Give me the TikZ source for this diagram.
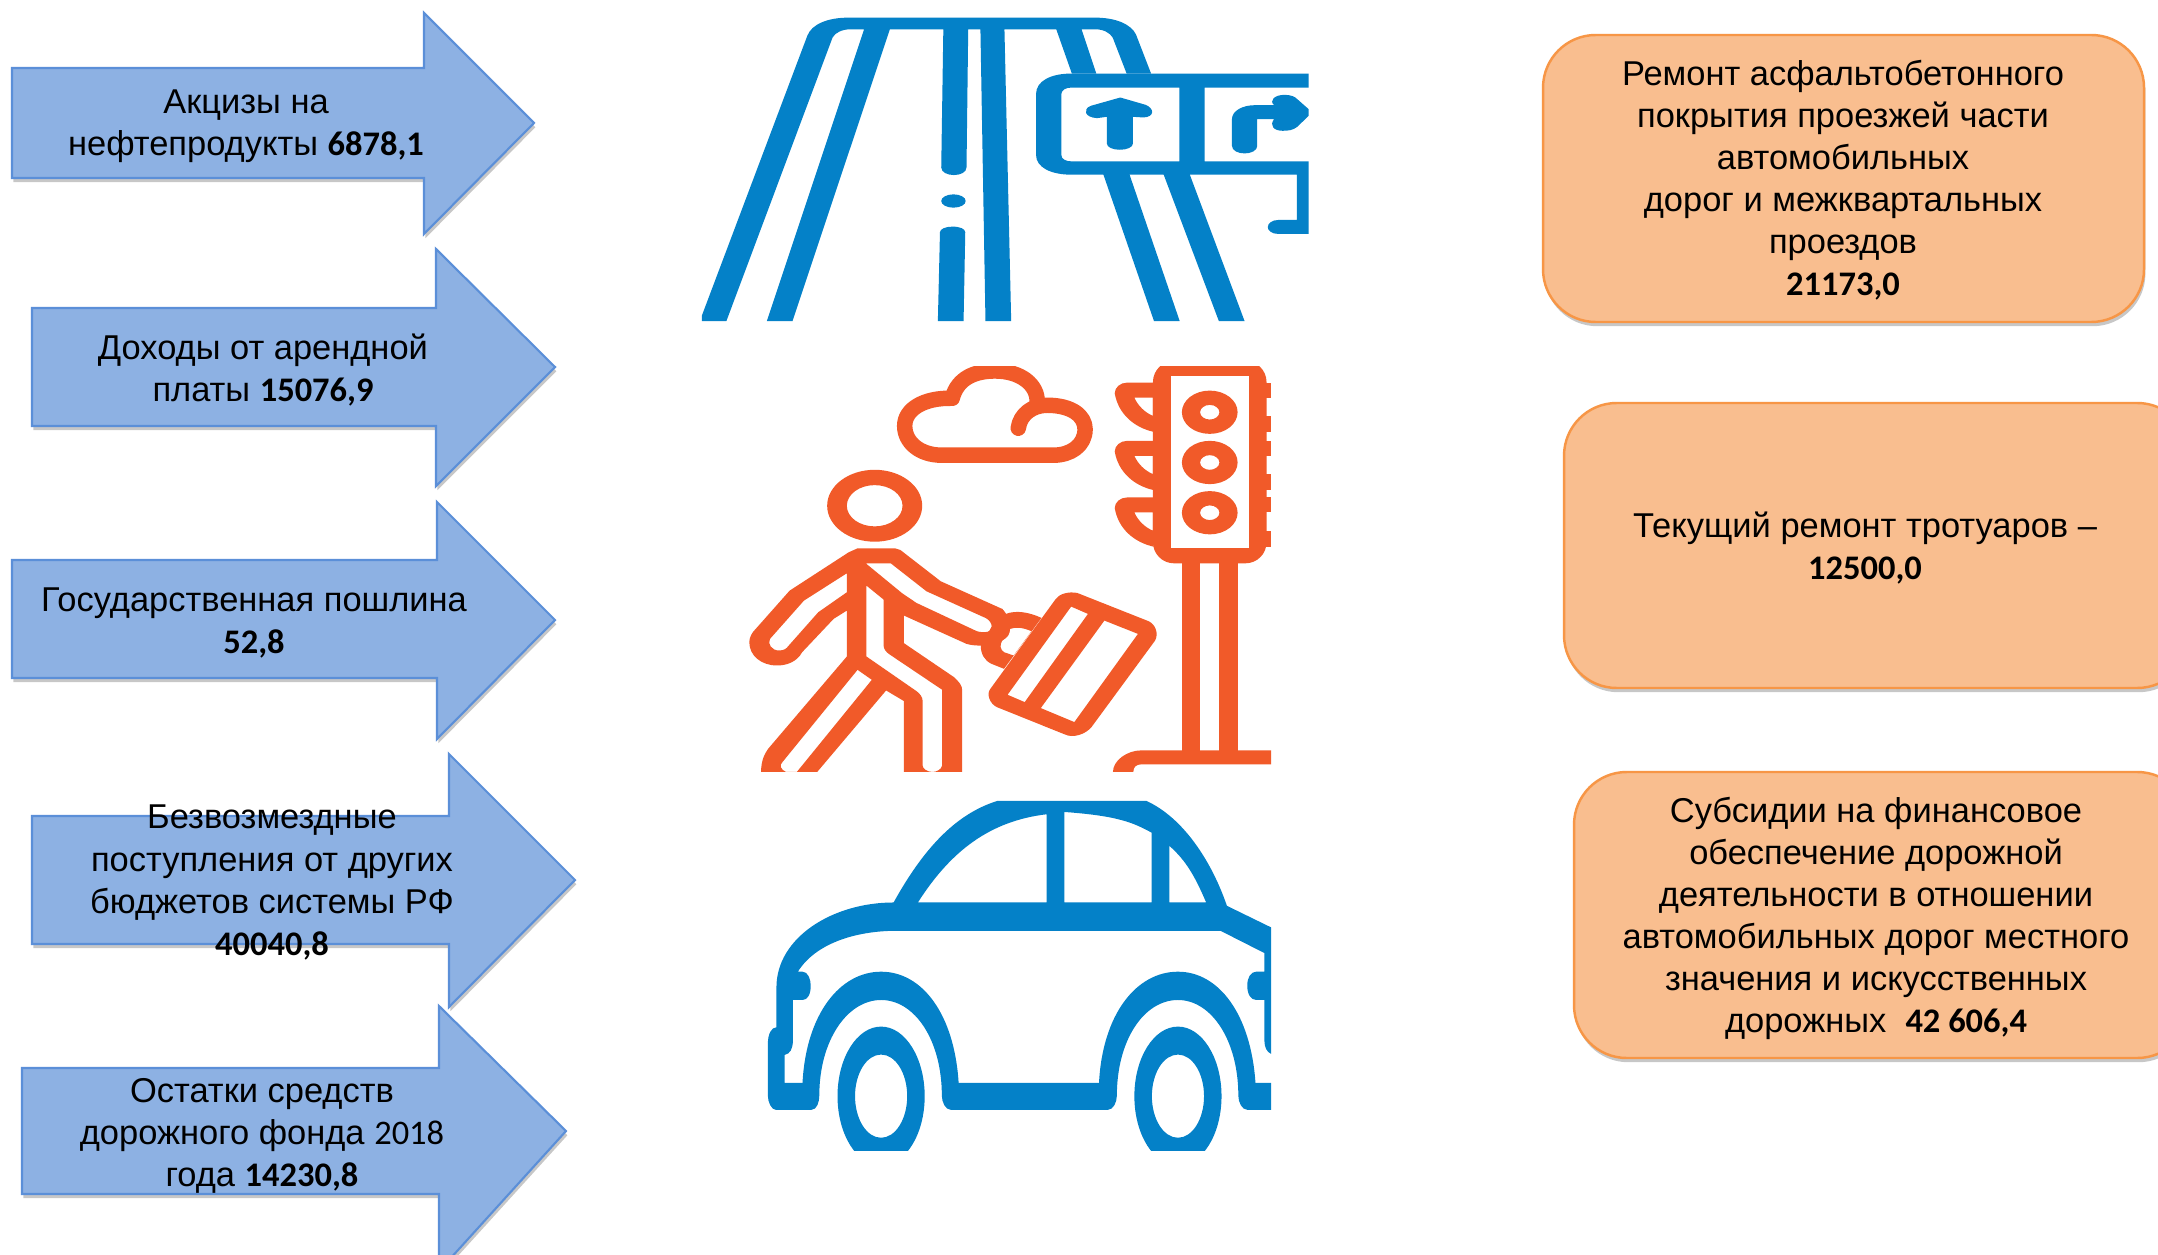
\documentclass[tikz,border=0pt]{standalone}
\usepackage{fontspec}
\setmainfont{Liberation Sans}
\newfontfamily\numfont{Carlito}
\usetikzlibrary{shadows}
\definecolor{iconblue}{HTML}{0481C8}
\definecolor{iconorange}{HTML}{F15A29}
\definecolor{arrowfill}{HTML}{8DB1E3}
\definecolor{arrowline}{HTML}{5B8FD8}
\definecolor{boxfill}{HTML}{F9BE8F}
\definecolor{boxline}{HTML}{F79646}
\newcommand{\nb}[1]{{\numfont\bfseries\fontsize{9.8}{11.95}\selectfont #1}}
\newcommand{\nr}[1]{{\numfont\fontsize{9.8}{11.95}\selectfont #1}}
\tikzset{
  softshadow/.style={drop shadow={shadow xshift=0.4pt,shadow yshift=-1.2pt,fill=black,opacity=0.22}},
  arrowshape/.style={fill=arrowfill,draw=arrowline,line width=0.6pt,softshadow},
  boxshape/.style={fill=boxfill,draw=boxline,line width=0.7pt,rounded corners=15pt,softshadow},
  label/.style={align=center,inner sep=0pt,text=black,font=\fontsize{9.8}{11.95}\selectfont},
  blueshape/.style={fill=iconblue,even odd rule},
  orangeshape/.style={fill=iconorange,even odd rule},
}
\newcommand{\inarrow}[8]{% left top bottom headx headtop headbot tipx tipy
  \fill[arrowshape] (#1,#2) -- (#4,#2) -- (#4,#5) -- (#7,#8) -- (#4,#6) -- (#4,#3) -- (#1,#3) -- cycle;}
\begin{document}
\begin{tikzpicture}[x=0.01cm,y=-0.01cm]
\path[use as bounding box] (0,0) rectangle (2158,1255);
\clip (0,0) rectangle (2158,1255);
\fill[white] (0,0) rectangle (2158,1255);
\begin{scope}[shift={(0,1)}]

% left arrows
\inarrow{12}{67}{177}{424}{12}{233}{534}{122}
\inarrow{32}{307}{425}{436}{248}{485}{555}{366}
\inarrow{12}{559}{677}{437}{501}{738}{555}{619}
\inarrow{32}{815}{943}{449}{753}{1006}{575}{879}
\inarrow{22}{1067}{1193}{439}{1005}{1270}{566}{1130}

\node[label] (a1) at (246,125.5) {Акцизы на\\нефтепродукты \nb{6878,1}};
\node[label] (a2) at (263,369) {Доходы от арендной\\платы \nb{15076,9}};
\node[label] (a3) at (254,621.5) {Государственная пошлина\\\nb{52,8}};
\node[label] (a4) at (272,881.5) {Безвозмездные\\поступления от других\\бюджетов системы РФ\\\nb{40040,8}};
\node[label] (a5) at (262,1135) {Остатки средств\\дорожного фонда \nr{2018}\\года \nb{14230,8}};

% right boxes
\fill[boxshape] (1543,34) rectangle (2144,321);
\fill[boxshape] (1564,402) rectangle (2190,687);
\fill[boxshape] (1574,771) rectangle (2190,1057);
\node[label] (b1) at (1843,179.5) {Ремонт асфальтобетонного\\покрытия проезжей части\\автомобильных\\дорог и межквартальных\\проездов\\\nb{21173,0}};
\node[label] (b2) at (1865,547) {Текущий ремонт тротуаров –\\\nb{12500,0}};
\node[label] (b3) at (1876,917) {Субсидии на финансовое\\обеспечение дорожной\\деятельности в отношении\\автомобильных дорог местного\\значения и искусственных\\дорожных \ \nb{42 606,4}};

% road icon
\begin{scope}[shift={(680,0)},x=0.004209cm,y=-0.003333cm]
\clip (40,50) rectangle (1492,962);
\fill[blueshape] (52,962) -- (52,945) -- (302,105) .. controls (312,70) and (350,50) .. (400,50) -- (985,50) .. controls (1035,50) and (1070,70) .. (1082,100) -- (1118,218) -- (1060,218) -- (1027,110) .. controls (1020,95) and (1005,85) .. (985,85) -- (953,85) -- (988,218) -- (930,218) -- (893,85) -- (770,85) -- (786,962) -- (725,962) -- (713,85) -- (684,85) -- (680,500) .. controls (680,515) and (665,523) .. (650,523) .. controls (635,523) and (620,515) .. (620,500) -- (625,85) -- (498,85) -- (267,962) -- (206,962) -- (437,85) -- (405,85) .. controls (385,85) and (368,95) .. (362,110) -- (110,962) -- cycle;
\fill[blueshape] (649,601) ellipse [x radius=29,y radius=20];
\fill[blueshape] (612,962) -- (617,695) .. controls (617,685) and (630,678) .. (647,678) .. controls (665,678) and (677,685) .. (677,695) -- (673,962) -- cycle;
\fill[blueshape] (1492,218) -- (930,218) .. controls (880,218) and (845,240) .. (845,280) -- (845,462) .. controls (845,500) and (880,522) .. (930,522) -- (1005,522) -- (1125,962) -- (1186,962) -- (1067,522) -- (1148,522) -- (1279,962) -- (1340,962) -- (1210,522) -- (1464,522) -- (1464,658) -- (1420,658) .. controls (1405,658) and (1395,668) .. (1395,680) .. controls (1395,690) and (1405,700) .. (1420,700) -- (1492,700) -- (1492,482) -- (1245,482) -- (1245,260) -- (1492,260) -- cycle
 (930,260) .. controls (915,260) and (905,268) .. (905,280) -- (905,462) .. controls (905,475) and (915,482) .. (930,482) -- (1185,482) -- (1185,260) -- cycle;
\fill[blueshape] (1045,290) -- (1105,312) .. controls (1125,322) and (1128,348) .. (1100,350) -- (1075,348) -- (1075,428) .. controls (1075,440) and (1060,447) .. (1044,447) .. controls (1028,447) and (1013,440) .. (1013,428) -- (1013,348) -- (990,352) .. controls (960,350) and (955,325) .. (975,315) -- cycle;
\fill[blueshape] (1310,435) -- (1310,355) .. controls (1310,330) and (1335,313) .. (1365,313) -- (1410,313) .. controls (1398,300) and (1410,282) .. (1435,282) .. controls (1450,282) and (1460,288) .. (1465,295) -- (1492,325) -- (1492,345) -- (1465,378) .. controls (1455,388) and (1445,390) .. (1430,390) .. controls (1410,390) and (1398,375) .. (1410,355) -- (1370,355) -- (1370,435) .. controls (1370,450) and (1355,458) .. (1340,458) .. controls (1325,458) and (1310,450) .. (1310,435) -- cycle;
\end{scope}

% pedestrian icon
\begin{scope}[shift={(720,350)},x=0.003571cm,y=-0.003333cm]
\clip (60,47) rectangle (1543,1265);
% cloud
\draw[iconorange,line width=4.4pt,line cap=round,line join=round] (835,232) .. controls (840,190) and (875,163) .. (915,163) .. controls (985,163) and (1022,195) .. (1022,235) .. controls (1022,285) and (980,313) .. (935,313) -- (620,313) .. controls (560,313) and (517,275) .. (517,225) .. controls (517,175) and (570,140) .. (650,142) .. controls (665,80) and (715,60) .. (770,60) .. controls (840,60) and (890,100) .. (888,155);
% head
\fill[orangeshape] (433,465) ellipse [x radius=133,y radius=108] (433,465) ellipse [x radius=78,y radius=62];
% body
\fill[orangeshape] (385,593) -- (490,593) -- (505,598) -- (618,692) -- (790,775) .. controls (815,800) and (815,850) .. (790,870) .. controls (770,885) and (720,890) .. (690,880) -- (515,795) -- (515,878) -- (655,980) .. controls (670,995) and (678,1005) .. (678,1020) -- (678,1265) -- (515,1265) -- (515,1052) -- (465,1020) -- (272,1265) -- (115,1265) .. controls (115,1230) and (125,1210) .. (135,1195) -- (355,918) -- (355,780) -- (318,805) -- (230,905) .. controls (215,935) and (185,945) .. (160,945) .. controls (115,945) and (82,915) .. (82,875) .. controls (82,860) and (90,845) .. (100,835) -- (195,720) -- (360,605) -- cycle
 (355,668) -- (235,750) -- (140,865) .. controls (132,880) and (145,900) .. (165,900) .. controls (180,900) and (187,893) .. (190,888) -- (275,785) -- (355,725) -- cycle
 (408,638) -- (478,638) -- (578,722) -- (745,803) .. controls (765,815) and (768,845) .. (740,845) .. controls (730,845) and (720,843) .. (715,840) -- (550,757) -- (510,728) -- cycle
 (410,705) -- (458,747) -- (458,885) .. controls (458,895) and (465,905) .. (475,912) -- (622,1018) -- (622,1245) .. controls (620,1258) and (605,1265) .. (595,1265) .. controls (580,1265) and (567,1255) .. (567,1245) -- (567,1050) .. controls (567,1040) and (560,1030) .. (550,1022) -- (410,918) -- cycle
 (385,958) -- (425,988) -- (215,1265) -- (185,1265) .. controls (170,1258) and (165,1245) .. (175,1235) -- cycle;
% bag handle
\fill[orangeshape] (800,790) .. controls (830,778) and (865,785) .. (900,802) -- (795,955) -- (760,940) .. controls (740,930) and (730,910) .. (730,885) -- (790,775) -- cycle
 (812,835) .. controls (830,828) and (850,832) .. (872,842) -- (822,915) -- (795,905) .. controls (785,898) and (782,885) .. (790,870) .. controls (805,862) and (812,850) .. (812,835) -- cycle;
% bag
\fill[orangeshape] (940,745) .. controls (950,730) and (975,722) .. (1000,727) -- (1200,812) .. controls (1220,822) and (1228,850) .. (1218,870) -- (1040,1130) .. controls (1025,1150) and (990,1165) .. (965,1152) -- (775,1070) .. controls (755,1060) and (745,1030) .. (757,1015) -- cycle
 (983,768) -- (1030,790) -- (853,1055) -- (805,1033) -- cycle
 (1076,810) -- (1170,850) -- (992,1115) -- (898,1073) -- cycle;
% traffic light
\fill[orangeshape,rounded corners=6pt] (1212,30) rectangle (1530,638);
\fill[white] (1262,75) rectangle (1480,593);
\foreach \cy in {184,335,486}{
  \fill[orangeshape] (1371,\cy) ellipse [x radius=78,y radius=65] (1371,\cy) ellipse [x radius=27,y radius=22];
}
\foreach \dy in {0,175,345}{
  \begin{scope}[yshift=-\dy*0.003333cm]
  \fill[orangeshape] (1214,95) -- (1140,95) .. controls (1120,95) and (1105,110) .. (1105,127) .. controls (1115,190) and (1160,230) .. (1214,243) -- cycle
   (1160,140) -- (1212,140) -- (1212,195) .. controls (1190,185) and (1170,165) .. (1160,140) -- cycle;
  \fill[iconorange] (1528,95) rectangle (1543,140);
  \fill[iconorange] (1528,195) rectangle (1543,243);
  \end{scope}
}
\fill[iconorange] (1293,630) rectangle (1343,1205);
\fill[iconorange] (1398,630) rectangle (1450,1205);
\fill[orangeshape] (1100,1265) .. controls (1100,1230) and (1140,1200) .. (1180,1200) -- (1543,1200) -- (1543,1242) -- (1180,1242) .. controls (1165,1242) and (1157,1250) .. (1157,1265) -- cycle;
\end{scope}

% car icon
\begin{scope}[shift={(740,780)},x=0.003571cm,y=-0.003333cm]
\clip (60,60) rectangle (1487,1110);
\fill[blueshape] (102,740) -- (102,620) .. controls (102,470) and (260,365) .. (430,365) .. controls (510,210) and (600,100) .. (720,60) -- (1138,60) .. controls (1240,110) and (1320,240) .. (1363,375) -- (1487,440) -- (1487,820) .. controls (1475,815) and (1468,800) .. (1468,780) -- (1468,658) -- (1445,658) .. controls (1430,658) and (1420,640) .. (1420,615) .. controls (1420,590) and (1430,573) .. (1445,573) -- (1468,573) -- (1468,517) -- (1345,450) -- (440,450) .. controls (320,450) and (210,490) .. (162,573) -- (175,573) .. controls (190,573) and (198,595) .. (198,615) .. controls (198,640) and (190,658) .. (175,658) -- (148,658) -- (148,780) .. controls (148,805) and (140,820) .. (125,823) -- (125,907) -- (175,907) .. controls (185,700) and (280,573) .. (395,573) .. controls (510,573) and (600,700) .. (612,907) -- (1005,907) .. controls (1015,700) and (1110,573) .. (1226,573) .. controls (1340,573) and (1430,700) .. (1443,907) -- (1487,907) -- (1487,988) -- (1420,988) .. controls (1405,988) and (1395,965) .. (1395,945) .. controls (1395,780) and (1320,658) .. (1226,658) .. controls (1130,658) and (1055,780) .. (1055,945) .. controls (1055,965) and (1045,988) .. (1030,988) -- (590,988) .. controls (575,988) and (565,965) .. (565,945) .. controls (565,780) and (490,658) .. (395,658) .. controls (300,658) and (222,780) .. (222,945) .. controls (222,965) and (215,988) .. (200,988) -- (100,988) .. controls (88,988) and (78,965) .. (78,945) -- (78,790) .. controls (78,760) and (88,740) .. (102,740) -- cycle
 (498,365) -- (858,365) -- (858,100) .. controls (700,120) and (590,210) .. (498,365) -- cycle
 (908,365) -- (1152,365) -- (1152,155) .. controls (1100,125) and (1060,105) .. (908,93) -- cycle
 (1202,365) -- (1305,365) .. controls (1275,290) and (1250,240) .. (1202,195) -- cycle;
\foreach \cx in {395,1226}{
  \fill[blueshape] (\cx,947) ellipse [x radius=122,y radius=209] (\cx,947) ellipse [x radius=73,y radius=125];
}
\end{scope}
\end{scope}
\end{tikzpicture}
\end{document}
